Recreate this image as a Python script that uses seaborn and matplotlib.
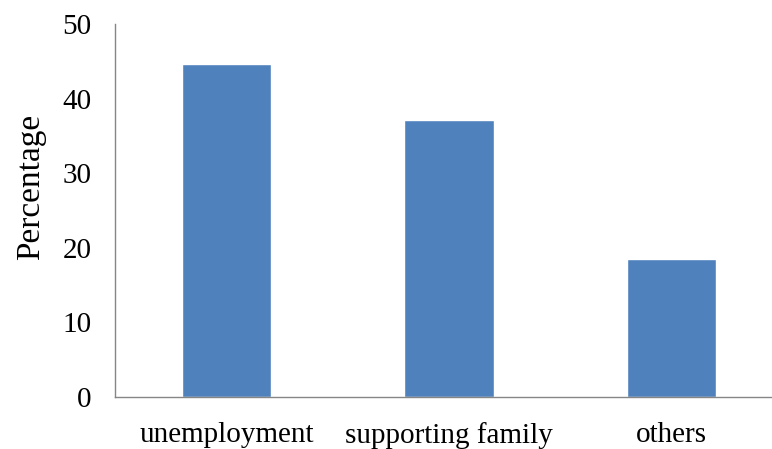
import matplotlib
matplotlib.use("Agg")
import matplotlib.pyplot as plt
import seaborn as sns
import pandas as pd

categories = ["unemployment", "supporting family", "others"]
values = [44.6, 37.1, 18.5]
yticks = [0, 10, 20, 30, 40, 50]

sns.set_theme(style="white")
plt.rcParams['font.family'] = ['Liberation Serif', 'DejaVu Serif']

df = pd.DataFrame({"cat": categories, "val": values})

fig = plt.figure(figsize=(7.72, 4.49), dpi=100)
ax = fig.add_axes([115/772, 1 - 397/449, 668/772, (397 - 24)/449])
sns.barplot(data=df, x="cat", y="val", color="#4F81BD", saturation=1, width=0.40, ax=ax)

ax.set_ylim(0, 50)
ax.set_yticks(yticks)
ax.set_yticklabels([str(t) for t in yticks], fontsize=21, color="#000000")
ax.set_xlim(-0.5, 2.5)
for lab in ax.get_xticklabels():
    lab.set_color("#000000")
ax.tick_params(axis='x', length=0, pad=18, labelsize=21, labelcolor="#000000")
ax.tick_params(axis='y', length=0, pad=17, labelsize=21, labelcolor="#000000")
ax.set_xlabel("")
ax.set_ylabel("Percentage", fontsize=24, labelpad=12, color="#000000")
ax.yaxis.label.set_y(0.563)
for s in ["top", "right"]:
    ax.spines[s].set_visible(False)
for s in ["left", "bottom"]:
    ax.spines[s].set_color("#868686")
    ax.spines[s].set_linewidth(1.0)

fig.savefig("out.png", dpi=100)
